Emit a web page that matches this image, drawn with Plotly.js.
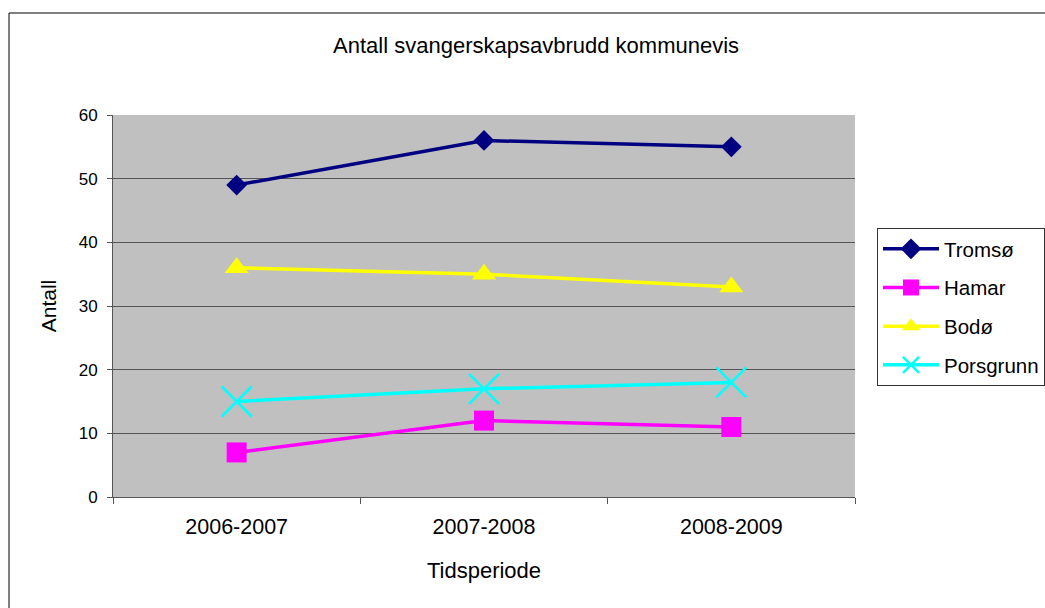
<!DOCTYPE html>
<html>
<head>
<meta charset="utf-8">
<script src="https://cdn.plot.ly/plotly-3.0.1.min.js"></script>
<style>html,body{margin:0;padding:0;background:#fff;}#chart{width:1045px;height:608px;}</style>
</head>
<body>
<div id="chart"></div>
<script>
const periods = ["2006-2007", "2007-2008", "2008-2009"];
const tromso = [49, 56, 55];
const hamar = [7, 12, 11];
const bodo = [36, 35, 33];
const porsgrunn = [15, 17, 18];
const yTicks = [0, 10, 20, 30, 40, 50, 60];

const FONT = "Liberation Sans, Arial, sans-serif";

function series(name, y, color, symbol, size, group) {
  return {
    type: "scatter", mode: "lines+markers", name: name, x: periods, y: y,
    legendgroup: group,
    line: {color: color, width: 3.5},
    marker: {color: color, symbol: symbol, size: size,
             line: {color: color, width: symbol === "x-thin" ? 2.5 : 0}},
    cliponaxis: false
  };
}

const data = [
  series("Tromsø", tromso, "#000080", "diamond", 16, "a"),
  series("Hamar", hamar, "#FF00FF", "square", 20, "b"),
  series("Bodø", bodo, "#FFFF00", "triangle-up", 21, "c"),
  series("Porsgrunn", porsgrunn, "#00FFFF", "x-thin", 30, "d")
];

const layout = {
  width: 1045, height: 608,
  margin: {l: 113, r: 190, t: 115, b: 111},
  paper_bgcolor: "#FFFFFF",
  plot_bgcolor: "#C0C0C0",
  font: {family: FONT, size: 19, color: "#000"},
  title: {text: "Antall svangerskapsavbrudd kommunevis", font: {family: FONT, size: 22, color: "#000"},
          x: 0.513, xref: "container", xanchor: "center", y: 1 - 45/608, yref: "container", yanchor: "middle"},
  xaxis: {
    type: "category", range: [-0.5, 2.5], tickson: "boundaries",
    ticks: "outside", ticklen: 6, tickcolor: "#555", tickwidth: 1,
    ticklabelstandoff: 10,
    showline: true, linecolor: "#555", linewidth: 1,
    showgrid: false, zeroline: false,
    tickfont: {family: FONT, size: 21.5, color: "#000"},
    title: {text: "Tidsperiode", font: {family: FONT, size: 22, color: "#000"}, standoff: 24}
  },
  yaxis: {
    range: [0, 60], tickvals: yTicks, ticktext: yTicks.map(String),
    ticks: "outside", ticklen: 5, tickcolor: "#555", tickwidth: 1,
    ticklabelstandoff: 6,
    showline: true, linecolor: "#555", linewidth: 1,
    showgrid: true, gridcolor: "#555", gridwidth: 1, zeroline: false,
    tickfont: {family: FONT, size: 17, color: "#000"},
    title: {text: "Antall", font: {family: FONT, size: 21, color: "#000"}, standoff: 16}
  },
  legend: {
    xref: "container", yref: "container",
    x: 877 / 1045, y: 1 - 228 / 608, xanchor: "left", yanchor: "top",
    bgcolor: "#FFFFFF", bordercolor: "#333", borderwidth: 1,
    font: {family: FONT, size: 20.5, color: "#000"},
    traceorder: "grouped", tracegroupgap: 9, itemwidth: 56
  },
  shapes: [{
    type: "rect", xref: "paper", yref: "paper",
    x0: (9 - 113) / 742, x1: 1.6, y0: -0.6, y1: (497 - 13) / 382,
    line: {color: "#000", width: 1}, fillcolor: "rgba(0,0,0,0)", layer: "below"
  }]
};

Plotly.newPlot("chart", data, layout, {displayModeBar: false, staticPlot: true});
</script>
</body>
</html>
